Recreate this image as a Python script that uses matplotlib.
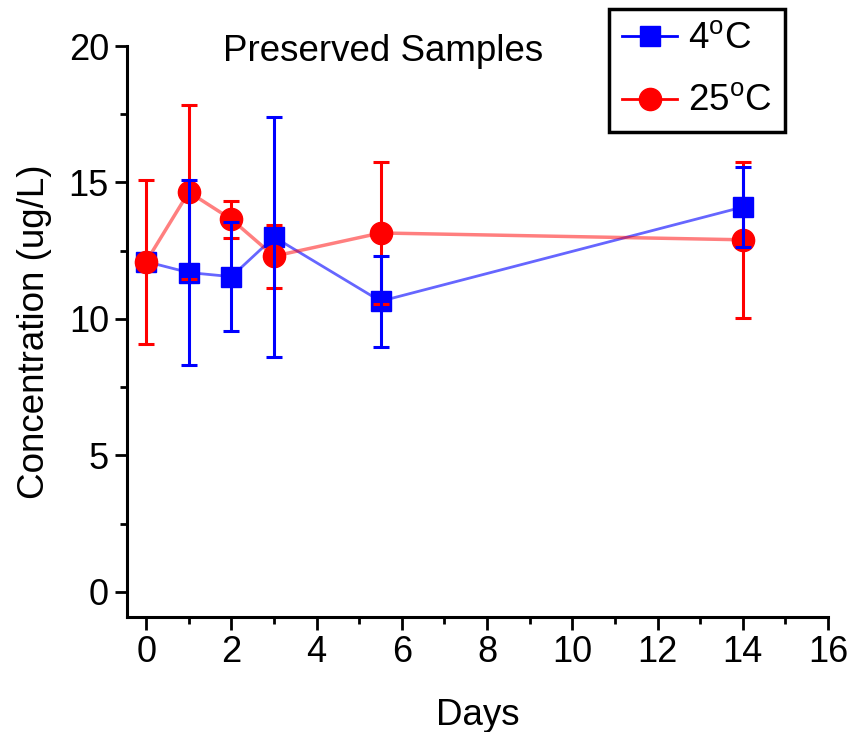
import numpy as np
import matplotlib
matplotlib.use("Agg")
import matplotlib.pyplot as plt
from matplotlib.ticker import MultipleLocator

plt.rcParams['font.family'] = ['Liberation Sans', 'DejaVu Sans']
plt.rcParams['mathtext.fontset'] = 'custom'
plt.rcParams['mathtext.rm'] = 'Liberation Sans'

days_4c = [0, 1, 2, 3, 5.5, 14]
conc_4c = [12.1, 11.7, 11.55, 13.0, 10.65, 14.1]
err_4c = [np.nan, 3.4, 2.0, 4.4, 1.67, 1.47]

days_25c = [0, 1, 2, 3, 5.5, 14]
conc_25c = [12.1, 14.65, 13.65, 12.3, 13.15, 12.9]
err_25c = [3.0, 3.2, 0.67, 1.15, 2.6, 2.85]

labels = [r'4$^{\rm o}$C', r'25$^{\rm o}$C']

fig = plt.figure(figsize=(8.58, 7.32), dpi=100)
ax = fig.add_axes([127/858, 1-617/732, (828-127)/858, (617-46)/732])

# connecting lines (light) and markers
ax.plot(days_4c, conc_4c, color='blue', lw=2, alpha=0.6, zorder=2)
ax.plot(days_25c, conc_25c, color='red', lw=2.5, alpha=0.5, zorder=2)
ax.plot(days_4c, conc_4c, ls='none', marker='s', ms=15, color='blue', zorder=3)
ax.plot(days_25c, conc_25c, ls='none', marker='o', ms=16, color='red', zorder=4)

ax.errorbar(days_25c, conc_25c, yerr=err_25c, fmt='none', ecolor='red',
            elinewidth=2.2, capsize=5.5, capthick=2.2, zorder=5)
ax.errorbar(days_4c, conc_4c, yerr=err_4c, fmt='none', ecolor='blue',
            elinewidth=2.2, capsize=5.5, capthick=2.2, zorder=6)

# legend proxies
h1, = ax.plot([], [], color='blue', lw=2, marker='s', ms=15)
h2, = ax.plot([], [], color='red', lw=2, marker='o', ms=16)
leg = ax.legend([h1, h2], labels, loc='upper right',
                bbox_to_anchor=(785/858, 1-9/732), bbox_transform=fig.transFigure,
                borderaxespad=0, fancybox=False, framealpha=1, edgecolor='black',
                fontsize=26.5, handlelength=1.5, handletextpad=0.3,
                borderpad=0.35, labelspacing=0.75)
leg.get_frame().set_linewidth(2.5)

ax.set_xlim(-0.45, 16)
ax.set_ylim(-0.92, 20)
ax.xaxis.set_major_locator(MultipleLocator(2))
ax.xaxis.set_minor_locator(MultipleLocator(1))
ax.yaxis.set_major_locator(MultipleLocator(5))
ax.yaxis.set_minor_locator(MultipleLocator(2.5))
ax.tick_params(which='major', direction='out', length=9, width=2, labelsize=26, pad=4)
ax.tick_params(which='minor', direction='out', length=5, width=2)

ax.spines['top'].set_visible(False)
ax.spines['right'].set_visible(False)
ax.spines['left'].set_linewidth(2.2)
ax.spines['bottom'].set_linewidth(2.2)

ax.set_xlabel('Days', fontsize=26.5, labelpad=20)
ax.set_ylabel('Concentration (ug/L)', fontsize=26.5, labelpad=12)
ax.text(0.365, 0.99, 'Preserved Samples', transform=ax.transAxes,
        ha='center', va='center', fontsize=26.5)

fig.savefig('out.png', dpi=100)
